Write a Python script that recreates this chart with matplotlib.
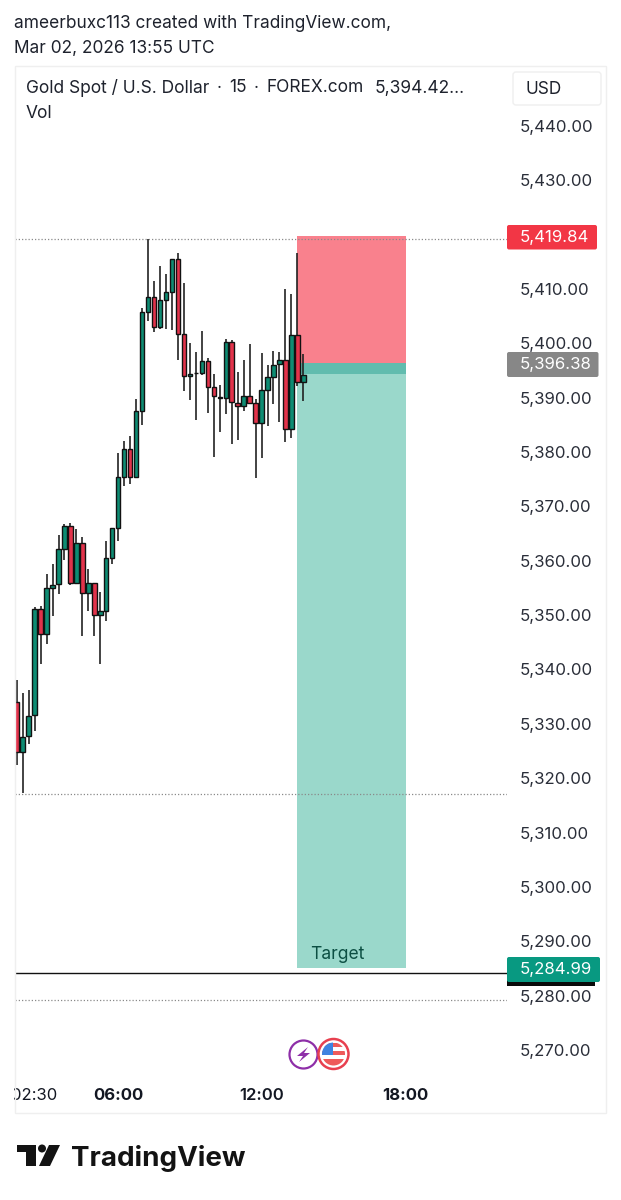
# Gold spot 15m chart with short position box

import matplotlib
matplotlib.use('Agg')
import matplotlib.pyplot as plt
from matplotlib.patches import Rectangle, FancyBboxPatch, Polygon, Circle

plt.rcParams['font.family'] = ['Inter', 'DejaVu Sans']

# Candles
opens = [5334.02, 5324.88, 5327.70, 5331.56, 5351.07, 5346.47, 5354.99, 5355.67, 5362.23, 5366.40,
         5355.97, 5363.21, 5354.13, 5355.85, 5350.09, 5350.82, 5360.45, 5366.09, 5375.35, 5380.50,
         5375.48, 5387.62, 5405.83, 5408.59, 5403.07, 5407.98, 5409.51, 5415.59, 5401.66, 5394.00,
         5394.49, 5394.61, 5396.70, 5391.91, 5390.19, 5389.89, 5400.25, 5389.03, 5388.54, 5390.26,
         5388.97, 5385.29, 5391.36, 5393.81, 5396.14, 5396.88, 5384.25, 5401.48, 5392.95]
highs = [5338.06, 5335.61, 5336.22, 5351.56, 5351.74, 5357.51, 5359.41, 5364.80, 5366.77, 5367.01,
         5365.91, 5364.44, 5358.43, 5355.85, 5354.26, 5363.64, 5366.09, 5379.89, 5382.04, 5382.96,
         5389.70, 5406.45, 5419.14, 5411.54, 5414.30, 5412.76, 5415.59, 5416.57, 5411.05, 5400.01,
         5398.47, 5402.34, 5397.25, 5394.37, 5392.34, 5400.74, 5400.62, 5394.67, 5396.94, 5399.82,
         5389.70, 5398.17, 5396.02, 5398.66, 5398.35, 5409.94, 5409.02, 5416.69, 5398.11]
lows = [5322.36, 5317.21, 5326.35, 5328.74, 5341.01, 5344.69, 5349.90, 5353.83, 5360.14, 5355.54,
        5355.97, 5346.16, 5350.82, 5346.22, 5341.01, 5348.98, 5359.35, 5363.64, 5373.82, 5374.13,
        5375.48, 5384.98, 5404.18, 5402.15, 5402.58, 5402.64, 5402.46, 5396.94, 5391.24, 5389.58,
        5385.90, 5394.18, 5387.25, 5379.16, 5383.69, 5387.01, 5381.55, 5382.22, 5387.62, 5388.97,
        5375.17, 5378.91, 5384.80, 5388.85, 5385.47, 5381.85, 5382.53, 5392.22, 5389.34]
closes = [5324.88, 5327.64, 5331.44, 5351.07, 5346.47, 5354.93, 5355.54, 5362.11, 5366.40, 5355.97,
          5363.21, 5354.13, 5355.85, 5350.02, 5350.82, 5360.45, 5365.97, 5375.35, 5380.50, 5375.48,
          5387.56, 5405.83, 5408.59, 5403.07, 5407.98, 5409.51, 5415.59, 5401.66, 5394.00, 5394.43,
          5394.61, 5396.70, 5391.91, 5390.32, 5389.89, 5400.25, 5389.15, 5388.54, 5390.26, 5389.03,
          5385.29, 5391.36, 5393.81, 5396.08, 5396.88, 5384.25, 5401.48, 5392.95, 5394.12]

# Levels
stop_price = 5419.84
entry_price = 5396.38
last_price = 5394.42
target_price = 5284.99
box_start, box_end = 46.95, 65.2
line_price = 5284.16
dotted_prices = [5419.21, 5317.09, 5279.19]

# Axis labels
price_ticks = [5440, 5430, 5410, 5400, 5390, 5380, 5370, 5360, 5350, 5340,
               5330, 5320, 5310, 5300, 5290, 5280, 5270]
time_ticks = [3, 17, 41, 65]
time_labels = ['02:30', '06:00', '12:00', '18:00']
time_weights = ['normal', 'bold', 'semibold', 'bold']

# Legend line pieces
legend_parts = ['Gold Spot / U.S. Dollar', '·', '15', '·', 'FOREX.com', '5,394.42...']
legend_x = [26, 217, 229, 254, 267, 375]

GREEN = '#0E8C73'
RED = '#E2334B'

W, H = 621, 1200
fig = plt.figure(figsize=(W / 100, H / 100), dpi=100, facecolor='white')

# main chart pane, 15..507 px across and 65..1077 px down
ax = fig.add_axes([15 / W, 1 - 1077 / H, (507 - 15) / W, (1077 - 65) / H])
ax.set_xlim(-0.285, 82.1)
ax.set_ylim(5265.02, 5451.22)
for s in ax.spines.values():
    s.set_visible(False)

# position box
ax.add_patch(Rectangle((box_start, entry_price), box_end - box_start, stop_price - entry_price,
                       color='#F9818D', lw=0, zorder=1))
ax.add_patch(Rectangle((box_start, last_price), box_end - box_start, entry_price - last_price,
                       color='#61BCAE', lw=0, zorder=1))
ax.add_patch(Rectangle((box_start, target_price), box_end - box_start, last_price - target_price,
                       color='#9AD8CB', lw=0, zorder=1))
ax.text((box_start + box_end) / 2 - 2.4, target_price + 2.6, 'Target', color='#0C4F43',
        fontsize=12.6, ha='center', va='center', zorder=2)

for p in dotted_prices:
    ax.axhline(p, color='#8A8A8A', lw=0.9, ls=(0, (1, 1.6)), zorder=2)
ax.axhline(line_price, color='#111111', lw=1.0, zorder=2)

# candles
for i in range(len(opens)):
    c = GREEN if closes[i] >= opens[i] else RED
    ax.plot([i, i], [lows[i], highs[i]], color='#222222', lw=1.2, zorder=3, solid_capstyle='butt')
    ax.bar(i, abs(closes[i] - opens[i]), bottom=min(opens[i], closes[i]), width=0.74,
           color=c, edgecolor='#111111', lw=1.0, zorder=4)

ax.yaxis.tick_right()
ax.set_yticks(price_ticks)
ax.set_yticklabels([f'{p:,.2f}' for p in price_ticks], fontsize=12.1, color='#2A2E39')
ax.tick_params(axis='y', length=0, pad=9.4)
ax.set_xticks(time_ticks)
ax.set_xticklabels(time_labels, fontsize=12, color='#131722')
for lab, w in zip(ax.get_xticklabels(), time_weights):
    lab.set_fontweight(w)
ax.tick_params(axis='x', length=0, pad=8)

# overlay in pixel coordinates for the frame, price tags, header and logo
ov = fig.add_axes([0, 0, 1, 1], facecolor='none')
ov.set_xlim(0, W)
ov.set_ylim(H, 0)
ov.axis('off')

ov.add_patch(Rectangle((0, 1080), 14, 30, color='white', lw=0))
ov.add_patch(Rectangle((14.5, 65.5), 591.5, 1047, fill=False, edgecolor='#EFEFEF', lw=1))

ov.text(14, 24, 'ameerbuxc113 created with TradingView.com,', fontsize=12.45, color='#1E222D', va='center')
ov.text(14, 49, 'Mar 02, 2026 13:55 UTC', fontsize=12.45, color='#1E222D', va='center')
for part, x in zip(legend_parts, legend_x):
    ov.text(x, 88, part, fontsize=12.5, color='#1E222D', va='center')
ov.text(26, 113, 'Vol', fontsize=12.5, color='#1E222D', va='center')

ov.add_patch(FancyBboxPatch((513, 72), 88, 33, boxstyle='round,pad=0,rounding_size=3',
                            fc='white', ec='#EFEFEF', lw=1))
ov.text(544, 89, 'USD', fontsize=12.4, color='#1E222D', ha='center', va='center')


def price_tag(x0, x1, y0, y1, color, label):
    ov.add_patch(FancyBboxPatch((x0, y0), x1 - x0, y1 - y0, boxstyle='round,pad=0,rounding_size=2',
                                fc=color, ec='none'))
    ov.text(520, (y0 + y1) / 2, label, fontsize=12.1, color='white', va='center')


ov.add_patch(Rectangle((507, 970), 88, 16, color='#0A0A0A', lw=0))
price_tag(507, 597, 225, 249.5, '#F23645', f'{stop_price:,.2f}')
price_tag(507, 598.5, 352, 377, '#878787', f'{entry_price:,.2f}')
price_tag(507, 600, 957, 982, '#089981', f'{target_price:,.2f}')

# event icons
ov.add_patch(Circle((303.5, 1054.5), 14, fc='white', ec='#8E2FA8', lw=1.6))
ov.add_patch(Polygon([(308, 1047), (297, 1056), (303, 1056), (299, 1062), (310, 1053), (304, 1053)],
                     color='#8E2FA8', lw=0))
ov.add_patch(Circle((333.5, 1054), 15, fc='white', ec='#E8404F', lw=1.8))
flag = Circle((333.5, 1054), 11.5, fc='white', ec='none')
ov.add_patch(flag)
for r in [Rectangle((321, 1043), 26, 4, color='#EE5A5A', lw=0),
          Rectangle((321, 1051), 26, 4, color='#EE5A5A', lw=0),
          Rectangle((321, 1059), 26, 8, color='#EE5A5A', lw=0),
          Rectangle((321, 1042), 12, 13, color='#3F83E0', lw=0)]:
    ov.add_patch(r)
    r.set_clip_path(flag)

# TradingView logo
ink = '#131313'
ov.add_patch(Polygon([(17, 1145), (35.7, 1145), (35.7, 1166), (26, 1166), (26, 1152.3), (17, 1152.3)], color=ink, lw=0))
ov.add_patch(Circle((42, 1148.5), 4, color=ink, lw=0))
ov.add_patch(Polygon([(49, 1145), (60, 1145), (50, 1166), (39, 1166)], color=ink, lw=0))
ov.text(70.5, 1159, 'TradingView', fontsize=20, fontweight='bold', color=ink, va='center')

fig.savefig('out.png', dpi=100)
